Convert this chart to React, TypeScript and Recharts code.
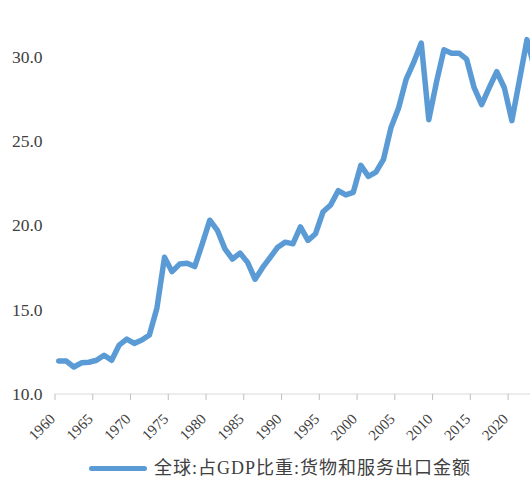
import React from "react";
import { LineChart, Line, XAxis, YAxis, Legend } from "recharts";

// 全球货物和服务出口金额占GDP比重 (%), 1960-2023
const YEARS = [
  1960, 1961, 1962, 1963, 1964, 1965, 1966, 1967, 1968, 1969,
  1970, 1971, 1972, 1973, 1974, 1975, 1976, 1977, 1978, 1979,
  1980, 1981, 1982, 1983, 1984, 1985, 1986, 1987, 1988, 1989,
  1990, 1991, 1992, 1993, 1994, 1995, 1996, 1997, 1998, 1999,
  2000, 2001, 2002, 2003, 2004, 2005, 2006, 2007, 2008, 2009,
  2010, 2011, 2012, 2013, 2014, 2015, 2016, 2017, 2018, 2019,
  2020, 2021, 2022, 2023,
];

const EXPORT_SHARE = [
  11.95, 11.95, 11.6, 11.85, 11.88, 12.0, 12.3, 12.0, 12.9, 13.25,
  13.0, 13.2, 13.5, 15.1, 18.1, 17.25, 17.7, 17.75, 17.55, 18.9,
  20.3, 19.7, 18.6, 18.0, 18.35, 17.8, 16.8, 17.5, 18.1, 18.7,
  19.0, 18.9, 19.9, 19.1, 19.5, 20.8, 21.2, 22.05, 21.8, 21.95,
  23.55, 22.9, 23.15, 23.9, 25.8, 26.95, 28.65, 29.65, 30.8, 26.25,
  28.45, 30.4, 30.2, 30.2, 29.85, 28.15, 27.15, 28.15, 29.1, 28.15,
  26.2, 28.6, 31.0, 29.3,
];

const X_TICK_LABELS = [
  "1960", "1965", "1970", "1975", "1980", "1985", "1990",
  "1995", "2000", "2005", "2010", "2015", "2020",
];
const Y_TICKS = [10, 15, 20, 25, 30];

const SERIES_NAME = "全球:占GDP比重:货物和服务出口金额";
const BLUE = "#5b9bd5";
const TEXT = "#404040";
const SERIF = "'Liberation Serif', 'Times New Roman', serif";
const LEGEND_FONT = "'Liberation Serif', 'Noto Sans CJK SC', serif";

const data = YEARS.map((year, i) => ({ year, value: EXPORT_SHARE[i] }));

// category ticks sit on the boundaries between years
const xTicks = X_TICK_LABELS.map((label) => Number(label) - 0.5);

const YearTick = (props: any) => {
  const { x, y, payload } = props;
  return (
    <g transform={`translate(${x + 1},${y + 18})`}>
      <text
        x={0}
        y={0}
        textAnchor="end"
        transform="rotate(-45)"
        fill={TEXT}
        style={{ fontFamily: SERIF, fontSize: 15 }}
      >
        {String(payload.value + 0.5)}
      </text>
    </g>
  );
};

const ValueTick = (props: any) => {
  const { x, y, payload } = props;
  return (
    <text
      x={x}
      y={y}
      dy="0.355em"
      textAnchor="end"
      fill={TEXT}
      style={{ fontFamily: SERIF, fontSize: 17.5 }}
    >
      {payload.value.toFixed(1)}
    </text>
  );
};

const renderLegend = () => (
  <div
    style={{
      height: 24,
      boxSizing: "border-box",
      paddingTop: 4,
      paddingLeft: 89,
      display: "flex",
      alignItems: "center",
      fontFamily: LEGEND_FONT,
      fontSize: 18,
      lineHeight: "20px",
      color: TEXT,
      whiteSpace: "nowrap",
    }}
  >
    <span
      style={{
        display: "inline-block",
        width: 58,
        height: 5,
        borderRadius: 3,
        background: BLUE,
        marginRight: 7,
      }}
    />
    <span style={{ letterSpacing: 1 }}>{SERIES_NAME}</span>
  </div>
);

export default function App() {
  return (
    <div
      style={{
        position: "absolute",
        left: 0,
        top: 0,
        width: 530,
        height: 478,
        overflow: "hidden",
        background: "#fff",
      }}
    >
      <LineChart
        width={530}
        height={478}
        data={data}
        margin={{ top: 0, right: 0, bottom: 0, left: 0 }}
      >
        <XAxis
          dataKey="year"
          type="number"
          domain={[1959.5, 2022.4]}
          ticks={xTicks}
          allowDataOverflow
          interval={0}
          height={60}
          stroke="#d9d9d9"
          tickLine={{ stroke: "#bfbfbf" }}
          tickSize={6}
          tick={<YearTick />}
        />
        <YAxis
          type="number"
          domain={[10, 33.35]}
          ticks={Y_TICKS}
          allowDataOverflow
          width={55}
          axisLine={false}
          tickLine={false}
          tickSize={0}
          tickMargin={12.5}
          tick={<ValueTick />}
        />
        <Legend verticalAlign="bottom" content={renderLegend} />
        <Line
          type="linear"
          dataKey="value"
          name={SERIES_NAME}
          stroke={BLUE}
          strokeWidth={5.5}
          strokeLinejoin="round"
          strokeLinecap="round"
          dot={false}
          activeDot={false}
          isAnimationActive={false}
        />
      </LineChart>
    </div>
  );
}
